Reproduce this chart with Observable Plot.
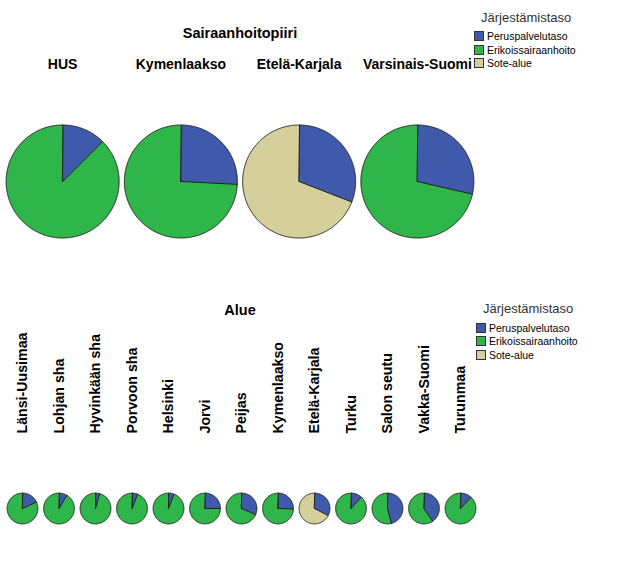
<!DOCTYPE html>
<html><head><meta charset="utf-8">
<script src="https://cdn.jsdelivr.net/npm/d3@7"></script>
<script src="https://cdn.jsdelivr.net/npm/@observablehq/plot@0.6"></script>
<style>
body{margin:0;background:#fff;font-family:"Liberation Sans",Arial,sans-serif;}
#wrap{position:relative;width:634px;height:584px;overflow:hidden;background:#fff;}
.abs{position:absolute;}
.ttl{font-weight:bold;font-size:14.5px;color:#000;transform:translate(-50%,-50%);white-space:nowrap;}
.legt{font-size:13px;color:#333;white-space:nowrap;transform:translateY(-50%);}
.legi{font-size:10.5px;color:#000;white-space:nowrap;display:flex;align-items:center;transform:translateY(-50%);}
.sw{width:10px;height:10px;border:1px solid #333;margin-right:3px;box-sizing:border-box;}
</style></head>
<body><div id="wrap"></div>
<script>
const levels = ["Peruspalvelutaso","Erikoissairaanhoito","Sote-alue"];
const levelColors = ["#3f5aab","#2fb64a","#d5cf9c"];

const topRegions = ["HUS","Kymenlaakso","Etelä-Karjala","Varsinais-Suomi"];
const topPerus   = [12.5, 25.8, 30.9, 28.6];
const topErikois = [87.5, 74.2, 0, 71.4];
const topSote    = [0, 0, 69.1, 0];

const areas = ["Länsi-Uusimaa","Lohjan sha","Hyvinkään sha","Porvoon sha","Helsinki","Jorvi","Peijas","Kymenlaakso","Etelä-Karjala","Turku","Salon seutu","Vakka-Suomi","Turunmaa"];
const areaPerus   = [18, 8.6, 4.3, 6, 5.8, 25, 31.4, 25.5, 32.6, 11.7, 46, 40.5, 12];
const areaErikois = [82, 91.4, 95.7, 94, 94.2, 75, 68.6, 74.5, 0, 88.3, 54, 59.5, 88];
const areaSote    = [0, 0, 0, 0, 0, 0, 0, 0, 67.4, 0, 0, 0, 0];

function piePoints(names, series){
  const pts=[];
  names.forEach((name,i)=>{
    const vals=series.map(s=>s[i]); const total=d3.sum(vals);
    let acc=0;
    vals.forEach((v,j)=>{
      if(v<=0) return;
      const a0=acc/total*2*Math.PI, a1=(acc+v)/total*2*Math.PI; acc+=v;
      const key=name+"|"+levels[j];
      pts.push({name,level:levels[j],key,x:0,y:0});
      const n=Math.max(2,Math.ceil((a1-a0)/0.01));
      for(let k=0;k<=n;k++){const t=a0+(a1-a0)*k/n;pts.push({name,level:levels[j],key,x:Math.sin(t),y:Math.cos(t)});}
    });
  });
  return pts;
}

const wrap=document.getElementById("wrap");
function addDiv(cls,left,top,html){const d=document.createElement("div");d.className="abs "+cls;d.style.left=left+"px";d.style.top=top+"px";d.innerHTML=html;wrap.appendChild(d);return d;}
function legend(x,y0,dy){
  addDiv("legt",x+7,y0,"Järjestämistaso");
  levels.forEach((l,i)=>addDiv("legi",x,y0+19.5+dy*i,`<span class="sw" style="background:${levelColors[i]}"></span>${l}`));
}
const font="Liberation Sans, Arial, sans-serif";

// Top chart
{
  const W=480,H=250,mt=72,ml=3,mr=4,r=56.5,cy=181;
  const bw=(W-ml-mr)/topRegions.length/2/r;
  const pts=piePoints(topRegions,[topPerus,topErikois,topSote]);
  const p=Plot.plot({width:W,height:H,marginTop:mt,marginBottom:0,marginLeft:ml,marginRight:mr,
    style:{fontFamily:font,background:"transparent"},
    fx:{domain:topRegions,padding:0,round:false,axis:null},
    x:{domain:[-bw,bw],axis:null},
    y:{domain:[-(H-cy)/r,(cy-mt)/r],axis:null},
    color:{domain:levels,range:levelColors},
    marks:[
      Plot.line(pts,{fx:"name",x:"x",y:"y",z:"key",fill:"level",stroke:"#222",strokeWidth:1,curve:"linear-closed"}),
      Plot.text(topRegions,{fx:d=>d,text:d=>d,frameAnchor:"top",lineAnchor:"bottom",dy:-3.5,fontWeight:"bold",fontSize:14,fill:"#000"})
    ]});
  p.style.position="absolute";p.style.left="0px";p.style.top="0px";
  wrap.appendChild(p);
  addDiv("ttl",240,33,"Sairaanhoitopiiri");
  legend(474,16.5,13.5);
}
// Bottom chart
{
  const top=300,W=480,H=240,mt=133,ml=3.75,mr=1.75,r=15.4,cy=508-top;
  const bw=(W-ml-mr)/areas.length/2/r;
  const pts=piePoints(areas,[areaPerus,areaErikois,areaSote]);
  const p=Plot.plot({width:W,height:H,marginTop:mt,marginBottom:0,marginLeft:ml,marginRight:mr,
    style:{fontFamily:font,background:"transparent"},
    fx:{domain:areas,padding:0,round:false,axis:null},
    x:{domain:[-bw,bw],axis:null},
    y:{domain:[-(H-cy)/r,(cy-mt)/r],axis:null},
    color:{domain:levels,range:levelColors},
    marks:[
      Plot.line(pts,{fx:"name",x:"x",y:"y",z:"key",fill:"level",stroke:"#222",strokeWidth:1,curve:"linear-closed"}),
      Plot.text(areas,{fx:d=>d,text:d=>d,frameAnchor:"top",rotate:-90,textAnchor:"start",lineAnchor:"middle",fontWeight:"bold",fontSize:14.2,fill:"#000"})
    ]});
  p.style.position="absolute";p.style.left="0px";p.style.top=top+"px";
  wrap.appendChild(p);
  addDiv("ttl",240,310,"Alue");
  legend(476,308.3,13.4);
}
</script></body></html>
